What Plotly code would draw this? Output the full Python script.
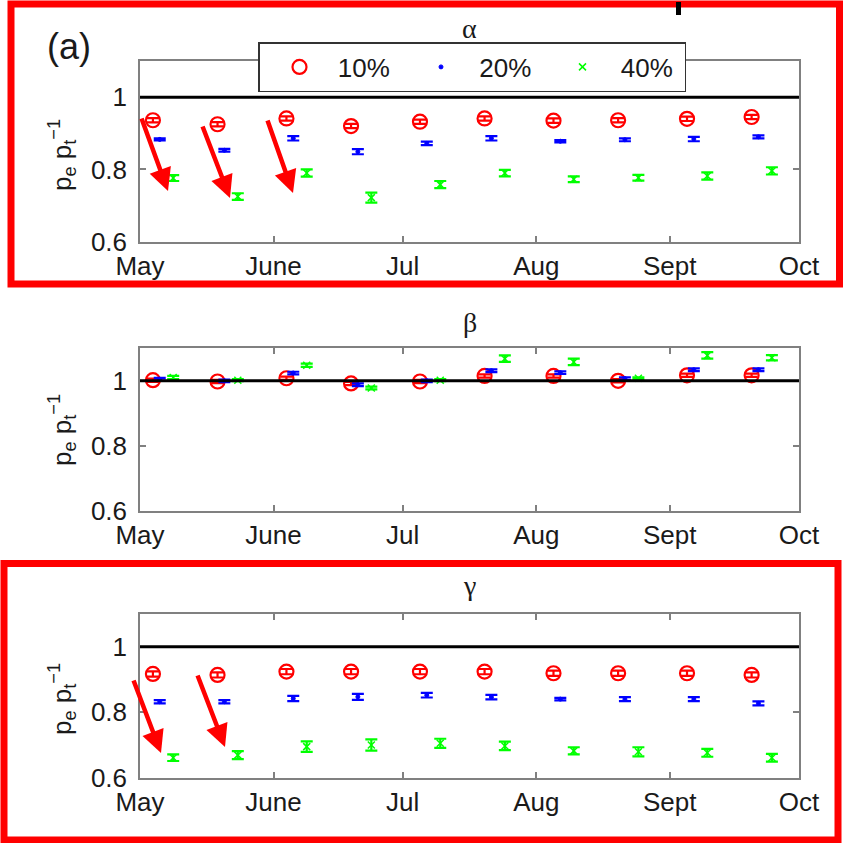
import datetime as dt
import plotly.graph_objects as go

# ---- data -------------------------------------------------------------
periods = ["2010-05-04", "2010-05-19", "2010-06-04", "2010-06-19", "2010-07-05",
           "2010-07-20", "2010-08-05", "2010-08-20", "2010-09-05", "2010-09-20"]
month_ticks = ["2010-05-01", "2010-06-01", "2010-07-01", "2010-08-01", "2010-09-01", "2010-10-01"]
month_labels = ["May", "June", "Jul", "Aug", "Sept", "Oct"]
series_names = ["10%", "20%", "40%"]

alpha_10 = [0.936, 0.925, 0.941, 0.920, 0.932, 0.941, 0.935, 0.936, 0.940, 0.945]
alpha_20 = [0.883, 0.853, 0.886, 0.849, 0.872, 0.886, 0.878, 0.882, 0.884, 0.890]
alpha_40 = [0.776, 0.725, 0.790, 0.722, 0.758, 0.790, 0.773, 0.777, 0.782, 0.796]
alpha_10_err = [0.006] * 10
alpha_20_err = [0.003, 0.004, 0.006, 0.007, 0.005, 0.006, 0.003, 0.004, 0.006, 0.004]
alpha_40_err = [0.008, 0.009, 0.010, 0.014, 0.010, 0.009, 0.008, 0.008, 0.010, 0.010]

beta_10 = [1.002, 0.998, 1.008, 0.992, 0.998, 1.015, 1.015, 1.000, 1.017, 1.017]
beta_20 = [1.005, 1.000, 1.024, 0.988, 1.000, 1.031, 1.025, 1.007, 1.034, 1.034]
beta_40 = [1.010, 1.002, 1.048, 0.978, 1.002, 1.068, 1.058, 1.008, 1.078, 1.071]
beta_10_err = [0.005] * 10
beta_20_err = [0.004] * 10
beta_40_err = [0.005, 0.003, 0.005, 0.004, 0.003, 0.010, 0.010, 0.003, 0.010, 0.008]

gamma_10 = [0.917, 0.914, 0.924, 0.924, 0.924, 0.924, 0.919, 0.919, 0.919, 0.914]
gamma_20 = [0.832, 0.832, 0.842, 0.847, 0.852, 0.846, 0.840, 0.840, 0.840, 0.827]
gamma_40 = [0.661, 0.669, 0.695, 0.700, 0.705, 0.697, 0.682, 0.679, 0.676, 0.661]
gamma_10_err = [0.008] * 10
gamma_20_err = [0.005, 0.005, 0.008, 0.009, 0.007, 0.007, 0.004, 0.006, 0.006, 0.006]
gamma_40_err = [0.010, 0.012, 0.016, 0.017, 0.014, 0.013, 0.011, 0.014, 0.012, 0.012]

# ---- figure geometry (pixels) -------------------------------------------
W, H = 846, 843


def fx(px):
    return px / W


def fy(py):
    return 1 - py / H


PLOT_LEFT, PLOT_RIGHT = 140, 799
# title, values, errors, plot top, plot bottom, title y, y-label centre
panels = [
    ("\u03b1", (alpha_10, alpha_20, alpha_40), (alpha_10_err, alpha_20_err, alpha_40_err), 61, 241.7, 28, 155),
    ("\u03b2", (beta_10, beta_20, beta_40), (beta_10_err, beta_20_err, beta_40_err), 348.3, 511, 322, 430),
    ("\u03b3", (gamma_10, gamma_20, gamma_40), (gamma_10_err, gamma_20_err, gamma_40_err), 614, 777.7, 585, 699),
]

# style of each percentage series: colour, marker, size, dodge (hours)
styles = [
    dict(color="#ff0000", symbol="circle-open", size=14, lw=2.2, dodge=0),
    dict(color="#0000ff", symbol="circle", size=4, lw=1, dodge=38),
    dict(color="#00ff00", symbol="x-thin-open", size=7, lw=1.5, dodge=113),
]


def shifted(dates, hours):
    out = []
    for d in dates:
        t = dt.datetime.strptime(d, "%Y-%m-%d") + dt.timedelta(hours=hours)
        out.append(t.strftime("%Y-%m-%d %H:%M"))
    return out


LEGEND_PAD = "\u2002\u2009"
TEXT = "#1a1a1a"
SANS = "Liberation Sans, Arial"

fig = go.Figure()
layout = {}
annotations = []
shapes = []

for i, (title, vals, errs, top, bottom, title_y, label_y) in enumerate(panels):
    n = "" if i == 0 else str(i + 1)
    xa, ya = "x" + n, "y" + n
    for j, (v, e, st) in enumerate(zip(vals, errs, styles)):
        fig.add_trace(go.Scatter(
            x=shifted(periods, st["dodge"]), y=v,
            xaxis=xa, yaxis=ya, mode="markers",
            name=LEGEND_PAD + series_names[j], showlegend=(i == 0),
            marker=dict(color=st["color"], symbol=st["symbol"], size=st["size"],
                        line=dict(color=st["color"], width=st["lw"])),
            error_y=dict(type="data", array=e, color=st["color"], thickness=2.2, width=6),
        ))
    axis_common = dict(showline=True, linecolor="#808080", linewidth=1.5, mirror="ticks",
                       ticks="inside", ticklen=6, tickcolor="#808080", tickwidth=1.5,
                       showgrid=False, zeroline=False, automargin=False,
                       tickfont=dict(family=SANS, size=26, color=TEXT))
    layout["xaxis" + n] = dict(
        axis_common, type="date", domain=[fx(PLOT_LEFT), fx(PLOT_RIGHT)],
        range=[month_ticks[0], month_ticks[-1]], tickvals=month_ticks, ticktext=month_labels,
        anchor=ya)
    layout["yaxis" + n] = dict(
        axis_common, domain=[fy(bottom), fy(top)], range=[0.6, 1.1],
        tickvals=[0.6, 0.8, 1.0], ticktext=["0.6", "0.8", "1"], anchor=xa,
        ticklabelstandoff=6)
    # reference line at unity
    shapes.append(dict(type="line", xref=xa + " domain", yref=ya, x0=0, x1=1, y0=1, y1=1,
                       line=dict(color="black", width=3)))
    annotations.append(dict(text=title, x=fx((PLOT_LEFT + PLOT_RIGHT) / 2), y=fy(title_y),
                            xref="paper", yref="paper", showarrow=False,
                            xanchor="center", yanchor="middle",
                            font=dict(family="Liberation Serif, Times New Roman", size=28, color=TEXT)))
    annotations.append(dict(text="p<sub>e</sub> p<sub>t</sub><sup>\u22121</sup>", textangle=-90,
                            x=fx(62), y=fy(label_y), xref="paper", yref="paper", showarrow=False,
                            xanchor="center", yanchor="middle",
                            font=dict(family=SANS, size=26, color=TEXT)))

# panel tag
annotations.append(dict(text="(a)", x=fx(69), y=fy(46), xref="paper", yref="paper", showarrow=False,
                        xanchor="center", yanchor="middle",
                        font=dict(family=SANS, size=36, color=TEXT)))

# red arrows pointing at the 40% series (tip, tail in pixels)
arrows = [((168, 191), (141, 117)), ((230, 198), (202, 125)), ((293, 193), (267, 119)),
          ((161, 753), (133, 679)), ((225, 747), (197, 674))]
for (tx, ty), (sx, sy) in arrows:
    annotations.append(dict(x=fx(tx), y=fy(ty), xref="paper", yref="paper", text="",
                            showarrow=True, arrowhead=2, arrowsize=1.0, arrowwidth=4.5,
                            arrowcolor="#ff0000", ax=sx - tx, ay=sy - ty))

# red frames around the alpha and gamma panels
shapes.append(dict(type="rect", xref="paper", yref="paper", x0=fx(11), x1=fx(839.5), y0=fy(284), y1=fy(4),
                   line=dict(color="#ff0000", width=7)))
shapes.append(dict(type="rect", xref="paper", yref="paper", x0=fx(4), x1=fx(838), y0=fy(840), y1=fy(563.5),
                   line=dict(color="#ff0000", width=7)))
# small black tick mark at the top edge
shapes.append(dict(type="rect", xref="paper", yref="paper", x0=fx(676), x1=fx(681), y0=fy(15), y1=fy(2),
                   fillcolor="black", line=dict(width=0)))

fig.update_layout(
    **layout,
    width=W, height=H, autosize=False, margin=dict(l=0, r=0, t=0, b=0, pad=0),
    paper_bgcolor="white", plot_bgcolor="white",
    shapes=shapes, annotations=annotations,
    legend=dict(orientation="h", x=fx(258), y=fy(42), xanchor="left", yanchor="top",
                bgcolor="white", bordercolor="#333333", borderwidth=1.5,
                font=dict(family=SANS, size=26, color=TEXT),
                indentation=20, entrywidth=76.5, entrywidthmode="pixels", itemsizing="trace"),
)

fig.write_html("out.html")
